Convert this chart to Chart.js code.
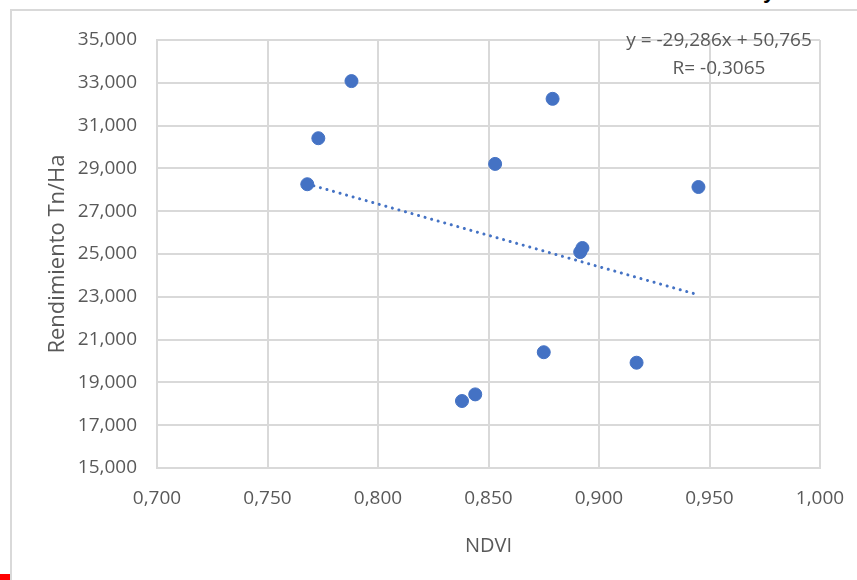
<!DOCTYPE html>
<html>
<head>
<meta charset="utf-8">
<script src="https://cdn.jsdelivr.net/npm/chart.js@4/dist/chart.umd.min.js"></script>
<style>
  html, body { margin: 0; padding: 0; background: #fff; overflow: hidden; }
  #wrap { position: absolute; left: 0; top: 0; width: 857px; height: 580px; }
  #frame { position: absolute; left: 10px; top: 9px; width: 900px; height: 620px; border: 2px solid #d9d9d9; box-sizing: border-box; }
  #redMark { position: absolute; left: 0; top: 574px; width: 10px; height: 6px; background: #ff0000; }
  #cutText { position: absolute; left: 763px; top: -20px; font: bold 22px "Liberation Sans", sans-serif; color: #000; line-height: 22px; }
</style>
</head>
<body>
<div id="frame"></div>
<div id="redMark"></div>
<div id="cutText">y</div>
<div id="wrap"><canvas id="chart"></canvas></div>
<script>
// NDVI (x) vs Rendimiento Tn/Ha (y)
const ndvi = [0.768, 0.773, 0.788, 0.853, 0.879, 0.8915, 0.8925, 0.875, 0.917, 0.838, 0.844, 0.945];
const rendimiento = [28.26, 30.41, 33.08, 29.21, 32.25, 25.09, 25.28, 20.41, 19.92, 18.13, 18.44, 28.13];

// linear trendline shown on the chart
const trendSlope = -29.286;
const trendIntercept = 50.765;
const equationLines = ['y = -29,286x + 50,765', 'R= -0,3065'];

const xTicks = { min: 0.7, max: 1.0, step: 0.05 };
const yTicks = { min: 15, max: 35, step: 2 };

const fmt = v => Number(v).toFixed(3).replace('.', ',');

const points = ndvi.map((x, i) => ({ x: x, y: rendimiento[i] }));
const xMin = Math.min(...ndvi);
const xMax = Math.max(...ndvi);
const trend = [xMin, xMax].map(x => ({ x: x, y: trendSlope * x + trendIntercept }));

const gridColor = '#d9d9d9';
const textColor = '#595959';
const blue = '#4472c4';

const equationPlugin = {
    id: 'equation',
    afterDraw(chart) {
        const ctx = chart.ctx;
        ctx.save();
        ctx.fillStyle = textColor;
        ctx.font = '19px "Open Sans", sans-serif';
        ctx.textAlign = 'center';
        ctx.textBaseline = 'middle';
        ctx.fillText(equationLines[0], 719, 41);
        ctx.fillText(equationLines[1], 719, 69);
        ctx.restore();
    }
};

new Chart(document.getElementById('chart'), {
    type: 'scatter',
    data: {
        datasets: [{
            label: 'Rendimiento',
            data: points,
            backgroundColor: blue,
            borderColor: blue,
            borderWidth: 1,
            pointRadius: 6.5
        }, {
            type: 'line',
            label: 'Tendencia',
            data: trend,
            borderColor: blue,
            borderWidth: 3,
            borderDash: [0.1, 6.7],
            borderCapStyle: 'round',
            pointRadius: 0,
            fill: false
        }]
    },
    options: {
        responsive: true,
        maintainAspectRatio: false,
        animation: false,
        layout: { padding: { left: 0, top: 40, right: 37, bottom: 0 } },
        plugins: {
            legend: { display: false },
            tooltip: { enabled: false }
        },
        scales: {
            x: {
                type: 'linear',
                min: xTicks.min,
                max: xTicks.max,
                afterFit: s => { s.height = 112; s.paddingLeft = 0; s.paddingRight = 0; },
                grid: { color: gridColor, lineWidth: 2, drawTicks: false },
                border: { color: gridColor, width: 2 },
                ticks: {
                    stepSize: xTicks.step,
                    padding: 19,
                    color: textColor,
                    font: { family: 'Open Sans', size: 19 },
                    callback: v => fmt(v)
                },
                title: {
                    display: true,
                    text: 'NDVI',
                    color: textColor,
                    font: { family: 'Open Sans', size: 20 },
                    padding: { top: 0, bottom: 22 }
                }
            },
            y: {
                type: 'linear',
                min: yTicks.min,
                max: yTicks.max,
                afterFit: s => { s.width = 157; s.paddingTop = 0; s.paddingBottom = 0; },
                grid: { color: gridColor, lineWidth: 2, drawTicks: false },
                border: { color: gridColor, width: 2 },
                ticks: {
                    stepSize: yTicks.step,
                    padding: 20,
                    color: textColor,
                    font: { family: 'Open Sans', size: 19 },
                    callback: v => fmt(v)
                },
                title: {
                    display: true,
                    text: 'Rendimiento Tn/Ha',
                    color: textColor,
                    font: { family: 'Open Sans', size: 22 },
                    padding: { top: 45, bottom: 0 }
                }
            }
        }
    },
    plugins: [equationPlugin]
});
</script>
</body>
</html>
